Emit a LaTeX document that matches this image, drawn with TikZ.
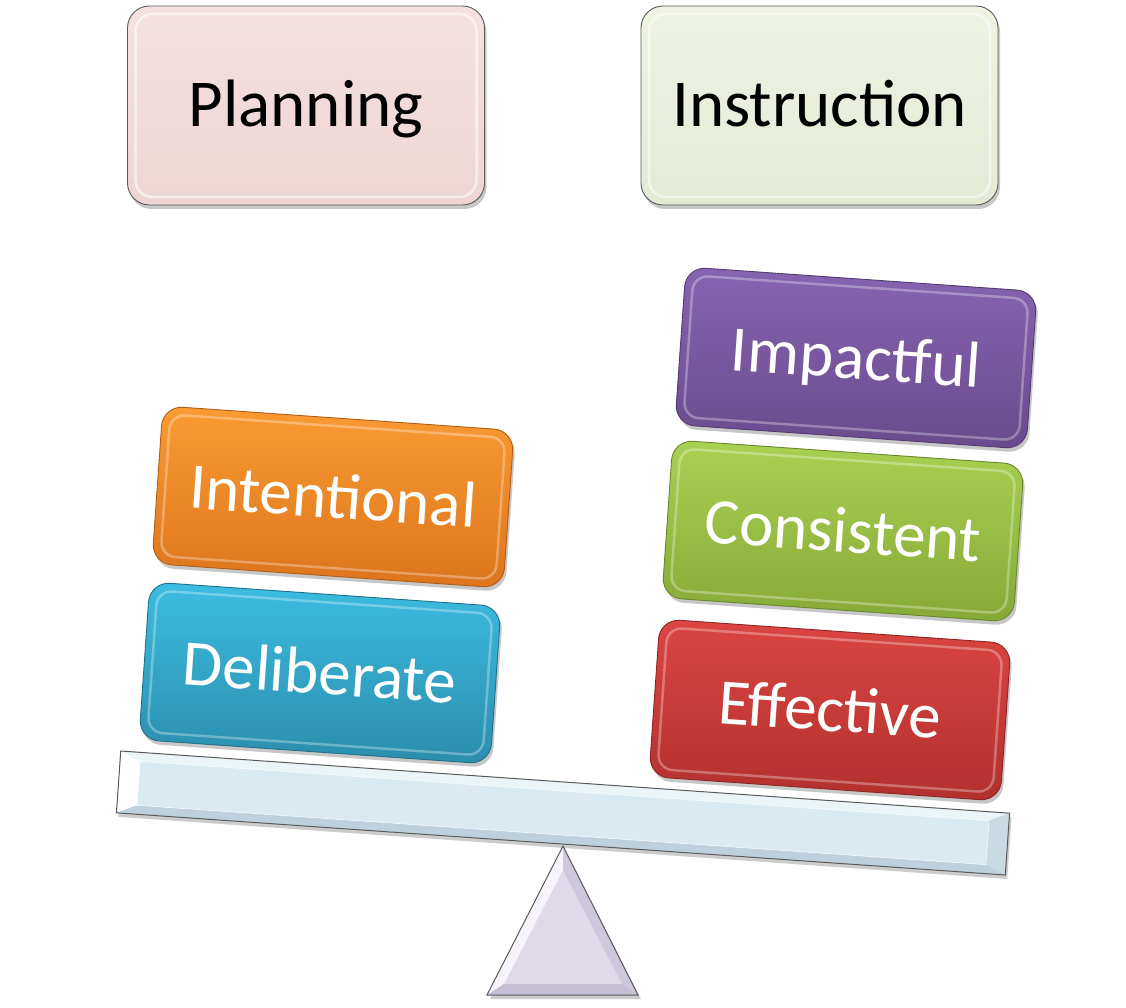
\documentclass[tikz,border=0pt]{standalone}
\usepackage{fontspec}
\setmainfont{Carlito}
\usetikzlibrary{shadows}
\definecolor{planfillT}{HTML}{F5E1E0}
\definecolor{planfillB}{HTML}{EED5D4}
\definecolor{instfillT}{HTML}{EEF3E3}
\definecolor{instfillB}{HTML}{E3EBD5}
\definecolor{blueT}{HTML}{3BBDE1}
\definecolor{blueB}{HTML}{2B8DAC}
\definecolor{orangeT}{HTML}{FA9B33}
\definecolor{orangeB}{HTML}{DC751C}
\definecolor{purpleT}{HTML}{8764B2}
\definecolor{purpleB}{HTML}{694B8D}
\definecolor{greenT}{HTML}{A9D152}
\definecolor{greenB}{HTML}{85A937}
\definecolor{redT}{HTML}{DB4642}
\definecolor{redB}{HTML}{B2302E}
\definecolor{beamfill}{HTML}{DAEAF1}
\definecolor{beamtop}{HTML}{EBF5F8}
\definecolor{beambot}{HTML}{BCD1DB}
\definecolor{beamright}{HTML}{C8DBE3}
\definecolor{trifill}{HTML}{DEDAE7}
\definecolor{trileft}{HTML}{F6F4FA}
\definecolor{triright}{HTML}{CEC8DA}
\definecolor{tribot}{HTML}{C5BED3}
\definecolor{edgegray}{HTML}{5A5A5A}
\tikzset{
  softshadow/.style={drop shadow={shadow xshift=2pt, shadow yshift=-4pt, opacity=0.22, fill=black}},
  topbox/.style={rounded corners=22pt, minimum width=357pt, minimum height=199pt,
    inner sep=0pt, line width=0.9pt, draw=gray!70!black, text=black,
    font=\fontsize{67}{80}\selectfont, text height=43pt, text depth=0pt, softshadow},
  gbox/.style={rounded corners=20pt, minimum width=352pt, minimum height=158pt,
    inner sep=0pt, rotate=-4, text=white, line width=0.9pt,
    font=\fontsize{65}{78}\selectfont, text height=42pt, text depth=0pt, softshadow},
  topbevel/.style={rounded corners=17pt, minimum width=341pt, minimum height=183pt,
    inner sep=0pt, draw=white, draw opacity=0.55, line width=2.5pt},
  gbevel/.style={rounded corners=15pt, minimum width=336pt, minimum height=142pt,
    inner sep=0pt, rotate=-4, draw=white, draw opacity=0.3, line width=2.5pt},
  beamshape/.style={rectangle, rotate=-4, inner sep=0pt, outer sep=0pt},
}
\newcommand\glossbox[6]{%
  \node[gbox, top color=#4, bottom color=#5, draw=#5!80!black] (#1) at (#2,#3) {#6};
  \node[gbevel] (#1bev) at (#1.center) {};
}
\begin{document}
\begin{tikzpicture}[x=1pt,y=-1pt]
\useasboundingbox (0,0) rectangle (1126,1008);

% beam
\node[beamshape, minimum width=891pt, minimum height=62pt, fill=beamfill,
      drop shadow={shadow xshift=2pt, shadow yshift=-4pt, opacity=0.2, fill=black}] (beam) at (563,813) {};
\node[beamshape, minimum width=851pt, minimum height=44pt] (beamin) at (beam.center) {};
\fill[beamtop] (beam.north west) -- (beam.north east) -- (beamin.north east) -- (beamin.north west) -- cycle;
\fill[white] (beam.north west) -- (beamin.north west) -- (beamin.south west) -- (beam.south west) -- cycle;
\fill[beambot] (beam.south west) -- (beamin.south west) -- (beamin.south east) -- (beam.south east) -- cycle;
\fill[beamright] (beam.north east) -- (beamin.north east) -- (beamin.south east) -- (beam.south east) -- cycle;
\draw[white!80!beamfill, line width=0.6pt] (beamin.north west) -- (beamin.north east) -- (beamin.south east) -- (beamin.south west) -- cycle;
\draw[edgegray, line width=1pt] (beam.north west) -- (beam.north east) -- (beam.south east) -- (beam.south west) -- cycle;

% fulcrum
\fill[black, opacity=0.2] (565,850) -- (641,999) -- (490,999) -- cycle;
\fill[trifill] (563,846) -- (638,995) -- (487,995) -- cycle;
\fill[trileft] (563,846) -- (563,870) -- (504,984) -- (487,995) -- cycle;
\fill[triright] (563,846) -- (638,995) -- (622,984) -- (563,870) -- cycle;
\fill[tribot] (487,995) -- (504,984) -- (622,984) -- (638,995) -- cycle;
\draw[edgegray, line width=1pt] (563,846) -- (638,995) -- (487,995) -- cycle;

% top boxes
\node[topbox, top color=planfillT, bottom color=planfillB] (planning) at (306,105.5) {Planning};
\node[topbevel] (planningbev) at (planning.center) {};
\node[topbox, top color=instfillT, bottom color=instfillB] (instruction) at (819.5,105.5) {Instruction};
\node[topbevel] (instructionbev) at (instruction.center) {};

% left stack
\glossbox{deliberate}{320}{673}{blueT}{blueB}{Deliberate}
\glossbox{intentional}{333}{497}{orangeT}{orangeB}{Intentional}

% right stack
\glossbox{effective}{830}{710}{redT}{redB}{Effective}
\glossbox{consistent}{843}{531}{greenT}{greenB}{Consistent}
\glossbox{impactful}{856}{358}{purpleT}{purpleB}{Impactful}
\end{tikzpicture}
\end{document}
